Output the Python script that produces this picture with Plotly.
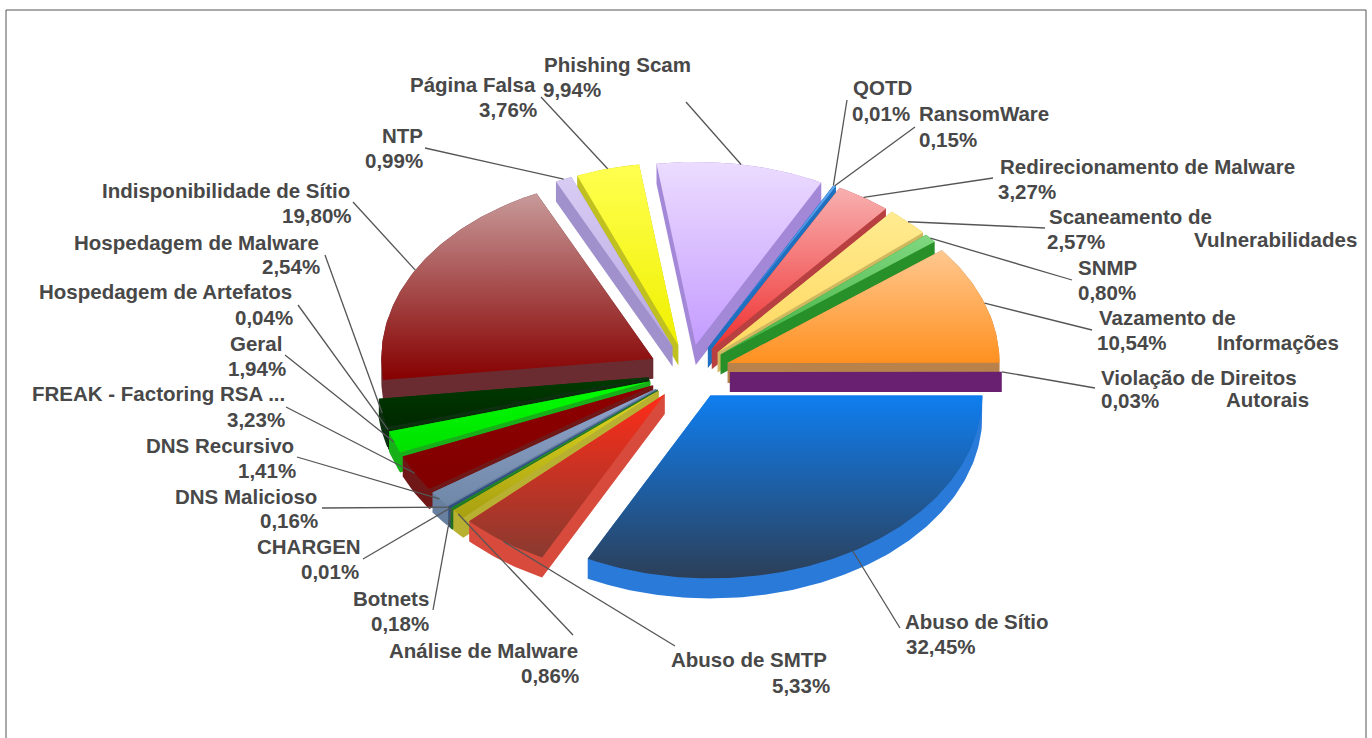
import math
import plotly.graph_objects as go

categories = ["Abuso de Sítio", "Abuso de SMTP", "Análise de Malware", "Botnets", "CHARGEN",
              "DNS Malicioso", "DNS Recursivo", "FREAK - Factoring RSA ...", "Geral",
              "Hospedagem de Artefatos", "Hospedagem de Malware", "Indisponibilidade de Sítio",
              "NTP", "Página Falsa", "Phishing Scam", "QOTD", "RansomWare",
              "Redirecionamento de Malware", "Scaneamento de Vulnerabilidades", "SNMP",
              "Vazamento de Informações", "Violação de Direitos Autorais"]
values = [32.45, 5.33, 0.86, 0.18, 0.01, 0.16, 1.41, 3.23, 1.94, 0.04, 2.54, 19.80,
          0.99, 3.76, 9.94, 0.01, 0.15, 3.27, 2.57, 0.80, 10.54, 0.03]

top_light = ["#0f7ef0", "#ff2c18", "#e0d820", "#30a030", "#6060c0", "#4060a0", "#8fa4cc", "#8e0000",
             "#00ff00", "#104010", "#003a00", "#c89a9a", "#d8ccf4", "#ffff50", "#ecdcff", "#80b0ff",
             "#60a8f0", "#f8b0b0", "#ffeb90", "#80d880", "#ffc890", "#6a2070"]
top_dark = ["#2c3f58", "#8a3a30", "#a8a010", "#208020", "#404090", "#305080", "#7088a8", "#800000",
            "#00e000", "#082808", "#002800", "#860000", "#b8a8e0", "#f0f000", "#c49cff", "#4070d0",
            "#2070d0", "#f03030", "#ffd860", "#40b040", "#ff9020", "#6a2070"]
wall_col = ["#2a7ada", "#d84a3c", "#b8b030", "#207020", "#404090", "#305080", "#6880a0", "#701818",
            "#18b018", "#0a300a", "#0c3010", "#6a2c30", "#a090cc", "#c0c020", "#a488d8", "#3060c0",
            "#2070c0", "#b84040", "#d0b860", "#289028", "#b8824a", "#6a2070"]

# (text, centre x, centre y) for each line of the labels
label_lines = [
    ("Phishing Scam", 617, 64), ("9,94%", 572, 89), ("Página Falsa", 473, 84), ("3,76%", 508, 109),
    ("NTP", 402, 135), ("0,99%", 394, 160), ("Indisponibilidade de Sítio", 226, 190), ("19,80%", 317, 215),
    ("Hospedagem de Malware", 196, 242), ("2,54%", 291, 266), ("Hospedagem de Artefatos", 165, 291),
    ("0,04%", 264, 317), ("Geral", 256, 343), ("1,94%", 257, 368), ("FREAK - Factoring RSA ...", 158, 393),
    ("3,23%", 256, 419), ("DNS Recursivo", 220, 445), ("1,41%", 267, 470), ("DNS Malicioso", 246, 496),
    ("0,16%", 289, 520), ("CHARGEN", 309, 546), ("0,01%", 330, 571), ("Botnets", 391, 598),
    ("0,18%", 400, 623), ("Análise de Malware", 483, 650), ("0,86%", 550, 675), ("Abuso de SMTP", 749, 659),
    ("5,33%", 801, 685), ("Abuso de Sítio", 977, 621), ("32,45%", 941, 646),
    ("Violação de Direitos", 1199, 377), ("0,03%", 1130, 400), ("Autorais", 1267, 399),
    ("Vazamento de", 1167, 317), ("10,54%", 1132, 342), ("Informações", 1278, 342),
    ("SNMP", 1107, 267), ("0,80%", 1107, 292), ("Scaneamento de", 1130, 216), ("2,57%", 1076, 241),
    ("Vulnerabilidades", 1275, 239), ("Redirecionamento de Malware", 1147, 166), ("3,27%", 1027, 191),
    ("RansomWare", 984, 113), ("0,15%", 948, 139), ("QOTD", 882, 87), ("0,01%", 881, 113),
]
# label end of each leader line, same order as categories
leader_ends = [(900, 628), (675, 646), (573, 635), (433, 610), (363, 559), (322, 508), (297, 457),
               (286, 407), (285, 355), (298, 305), (325, 255), (353, 202), (425, 148), (541, 97),
               (686, 102), (847, 100), (915, 127), (993, 178), (1045, 228), (1072, 280), (1092, 330),
               (1095, 388)]

CX, CY, RX, RY, EXPLODE, WALL = 689, 372, 272, 183, 0.15, 20


def hull(pts):
    pts = sorted(set(pts))
    def half(seq):
        out = []
        for p in seq:
            while len(out) >= 2 and (out[-1][0]-out[-2][0])*(p[1]-out[-2][1]) - (out[-1][1]-out[-2][1])*(p[0]-out[-2][0]) <= 0:
                out.pop()
            out.append(p)
        return out[:-1]
    return half(pts) + half(pts[::-1])


total = sum(values)
slices = []
cum = 0.0
for i, v in enumerate(values):
    a0, a1 = cum / total * 2 * math.pi, (cum + v) / total * 2 * math.pi
    cum += v
    mid = (a0 + a1) / 2
    tx, ty = CX + EXPLODE * RX * math.cos(mid), CY + EXPLODE * RY * math.sin(mid)
    n = max(2, int((a1 - a0) * 60))
    arc = [(tx + RX * math.cos(a0 + (a1 - a0) * k / n), ty + RY * math.sin(a0 + (a1 - a0) * k / n)) for k in range(n + 1)]
    outer = (tx + RX * math.cos(mid), ty + RY * math.sin(mid))
    slices.append(dict(i=i, mid=mid, tip=(tx, ty), arc=arc, outer=outer))

fig = go.Figure()
for s in sorted(slices, key=lambda q: math.sin(q["mid"])):
    i = s["i"]
    poly = [s["tip"]] + s["arc"]
    shell = hull(poly + [(x, y + WALL) for x, y in poly])
    shell.append(shell[0])
    fig.add_trace(go.Scatter(x=[p[0] for p in shell], y=[p[1] for p in shell], mode="lines", fill="toself",
                             fillcolor=wall_col[i], line=dict(width=0, color=wall_col[i]),
                             showlegend=False, hoverinfo="skip"))
    closed = poly + [poly[0]]
    fig.add_trace(go.Scatter(x=[p[0] for p in closed], y=[p[1] for p in closed], mode="lines", fill="toself",
                             fillgradient=dict(type="vertical",
                                               colorscale=[[0, top_dark[i]], [1, top_light[i]]]),
                             line=dict(width=0, color=top_dark[i]), name=categories[i],
                             text=f"{categories[i]}: {values[i]:.2f}%", hoverinfo="text", showlegend=False))

shapes = [dict(type="rect", xref="x", yref="y", x0=6, y0=10, x1=1366, y1=745,
               line=dict(color="#555555", width=1), layer="below")]
for s in slices:
    ex, ey = leader_ends[s["i"]]
    shapes.append(dict(type="line", xref="x", yref="y", x0=ex, y0=ey, x1=s["outer"][0], y1=s["outer"][1],
                       line=dict(color="#555555", width=1.3)))

annotations = [dict(text="<b>" + t + "</b>", x=x, y=y, xref="x", yref="y", showarrow=False,
                    xanchor="center", yanchor="middle",
                    font=dict(family="Liberation Sans", size=20.5, color="#484848"))
               for t, x, y in label_lines]

fig.update_layout(width=1372, height=738, margin=dict(l=0, r=0, t=0, b=0), paper_bgcolor="white",
                  plot_bgcolor="white", shapes=shapes, annotations=annotations, showlegend=False,
                  xaxis=dict(range=[0, 1372], visible=False, fixedrange=True),
                  yaxis=dict(range=[738, 0], visible=False, fixedrange=True))
fig.write_html("out.html", config=dict(displayModeBar=False),
               post_script="document.body.style.margin='0';document.documentElement.style.overflow='hidden';")
